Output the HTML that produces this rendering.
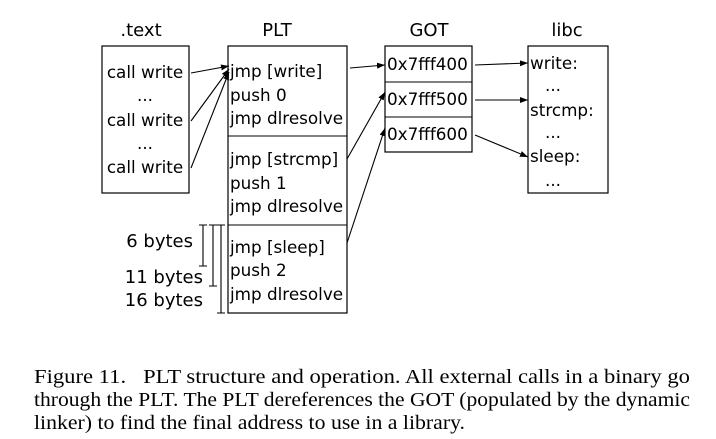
<!DOCTYPE html>
<html><head><meta charset="utf-8"><style>
html,body{margin:0;padding:0;background:#fff;}
svg{display:block;}
.d{font-family:"DejaVu Sans","Liberation Sans",sans-serif;font-size:16.8px;fill:#000;}
.t{font-family:"DejaVu Sans","Liberation Sans",sans-serif;font-size:18px;fill:#000;}
.c{font-family:"Liberation Serif",serif;font-size:19.5px;fill:#000;}
.b{fill:#fff;stroke:#000;stroke-width:1.2;}
.l{stroke:#000;stroke-width:1.1;fill:none;}
</style></head><body>
<svg width="716" height="439" viewBox="0 0 716 439">
<defs><marker id="ah" markerWidth="8" markerHeight="6" refX="8" refY="3" orient="auto" markerUnits="userSpaceOnUse"><path d="M0,0 L8,3 L0,6 z" fill="#000"/></marker></defs>
<g>
<text class="t" x="141" y="36" text-anchor="middle">.text</text>
<text class="t" x="277" y="36" text-anchor="middle">PLT</text>
<text class="t" x="429" y="36" text-anchor="middle">GOT</text>
<text class="t" x="567" y="36" text-anchor="middle">libc</text>
</g>
<g>
<rect class="b" x="102" y="46" width="87" height="147"/>
<text class="d" x="145" y="78" text-anchor="middle">call write</text>
<text class="d" x="145" y="101" text-anchor="middle">...</text>
<text class="d" x="145" y="126" text-anchor="middle">call write</text>
<text class="d" x="145" y="149" text-anchor="middle">...</text>
<text class="d" x="145" y="173" text-anchor="middle">call write</text>
</g>
<g>
<rect class="b" x="228" y="46" width="119" height="267"/>
<line class="l" x1="228" y1="136" x2="347" y2="136"/>
<line class="l" x1="228" y1="225" x2="347" y2="225"/>
<text class="d" x="230" y="77">jmp [write]</text>
<text class="d" x="230" y="101">push 0</text>
<text class="d" x="230" y="124">jmp dlresolve</text>
<text class="d" x="230" y="165">jmp [strcmp]</text>
<text class="d" x="230" y="189">push 1</text>
<text class="d" x="230" y="212">jmp dlresolve</text>
<text class="d" x="230" y="253">jmp [sleep]</text>
<text class="d" x="230" y="276">push 2</text>
<text class="d" x="230" y="300">jmp dlresolve</text>
</g>
<g>
<rect class="b" x="385" y="46" width="87" height="106"/>
<line class="l" x1="385" y1="82" x2="472" y2="82"/>
<line class="l" x1="385" y1="117" x2="472" y2="117"/>
<text class="d" x="387" y="70">0x7fff400</text>
<text class="d" x="387" y="105">0x7fff500</text>
<text class="d" x="387" y="140">0x7fff600</text>
</g>
<g>
<rect class="b" x="528" y="46" width="80" height="147"/>
<text class="d" x="530" y="69">write:</text>
<text class="d" x="545" y="91">...</text>
<text class="d" x="530" y="116">strcmp:</text>
<text class="d" x="545" y="138">...</text>
<text class="d" x="530" y="162">sleep:</text>
<text class="d" x="545" y="186">...</text>
</g>
<g>
<line class="l" marker-end="url(#ah)" x1="191" y1="73" x2="229" y2="66"/>
<line class="l" marker-end="url(#ah)" x1="191" y1="121" x2="229" y2="69"/>
<line class="l" marker-end="url(#ah)" x1="191" y1="168" x2="229" y2="72"/>
<line class="l" marker-end="url(#ah)" x1="350" y1="68" x2="385" y2="65"/>
<line class="l" marker-end="url(#ah)" x1="347" y1="159" x2="385" y2="92"/>
<line class="l" marker-end="url(#ah)" x1="347" y1="243" x2="385" y2="128"/>
<line class="l" marker-end="url(#ah)" x1="475" y1="65" x2="528" y2="63"/>
<line class="l" marker-end="url(#ah)" x1="475" y1="100" x2="528" y2="100"/>
<line class="l" marker-end="url(#ah)" x1="475" y1="135" x2="528" y2="157"/>
</g>
<g>
<text class="t" x="193" y="247" text-anchor="end">6 bytes</text>
<text class="t" x="203" y="283" text-anchor="end">11 bytes</text>
<text class="t" x="203" y="306" text-anchor="end">16 bytes</text>
<path class="l" d="M203,225V266M199,225H207M199,266H207"/>
<path class="l" d="M213,225V286M209,225H217M209,286H217"/>
<path class="l" d="M221,225V313M217,225H225M217,313H225"/>
</g>
<g>
<text class="c" x="34" y="383" textLength="656" lengthAdjust="spacingAndGlyphs" xml:space="preserve">Figure 11.   PLT structure and operation. All external calls in a binary go</text>
<text class="c" x="34" y="406" textLength="656" lengthAdjust="spacingAndGlyphs">through the PLT. The PLT dereferences the GOT (populated by the dynamic</text>
<text class="c" x="34" y="429" textLength="431" lengthAdjust="spacingAndGlyphs">linker) to find the final address to use in a library.</text>
</g>
</svg>
</body></html>
